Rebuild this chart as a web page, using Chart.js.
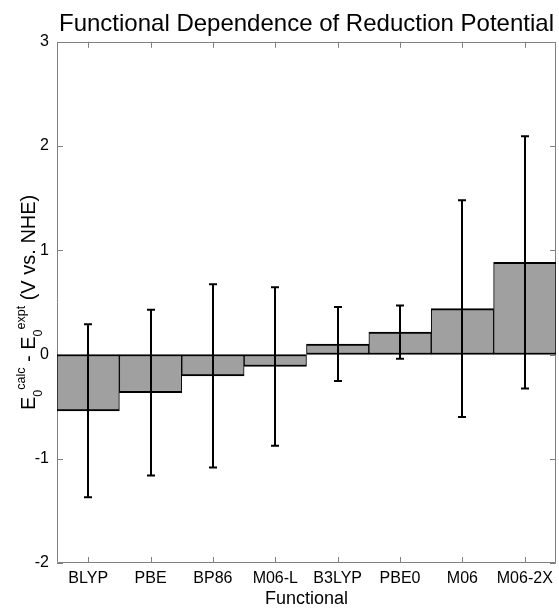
<!DOCTYPE html>
<html><head><meta charset="utf-8">
<script src="https://cdn.jsdelivr.net/npm/chart.js@4"></script>
<style>html,body{margin:0;padding:0;background:#fff}</style>
</head><body>
<canvas id="c" width="559" height="610" style="display:block;width:559px;height:610px"></canvas>
<script>
// ---- data ----
const categories = ['BLYP', 'PBE', 'BP86', 'M06-L', 'B3LYP', 'PBE0', 'M06', 'M06-2X'];
const meanValues = [-0.54, -0.365, -0.205, -0.115, 0.10, 0.215, 0.44, 0.885];
const errorValues = [0.83, 0.795, 0.88, 0.76, 0.355, 0.255, 1.04, 1.21];
const yTickValues = [-2, -1, 0, 1, 2, 3];
const titleText = 'Functional Dependence of Reduction Potential';
const xAxisTitle = 'Functional';
const yTitleParts = [
  {t: 'E', kind: 'main'}, {t: '0', kind: 'sub'}, {t: 'calc', kind: 'sup'},
  {t: ' - E', kind: 'main'}, {t: '0', kind: 'sub'}, {t: 'expt', kind: 'sup'},
  {t: ' (V vs. NHE)', kind: 'main'}
];

const FONT = 'Arial, "Liberation Sans", Helvetica, sans-serif';
const AXIS_COLOR = '#808080';

const boxPlugin = {
  id: 'boxPlugin',
  beforeDatasetsDraw(chart) {
    const {ctx, chartArea: a, scales: {x, y}} = chart;
    ctx.save();
    ctx.strokeStyle = AXIS_COLOR;
    ctx.lineWidth = 1;
    ctx.beginPath();
    ctx.rect(Math.round(a.left) + 0.5, Math.round(a.top) + 0.5, Math.round(a.right - a.left) - 1, Math.round(a.bottom - a.top) - 1);
    const tl = 6;
    y.ticks.forEach(t => {
      const py = Math.round(y.getPixelForValue(t.value)) + 0.5;
      ctx.moveTo(a.left, py); ctx.lineTo(a.left + tl, py);
      ctx.moveTo(a.right, py); ctx.lineTo(a.right - tl, py);
    });
    categories.forEach((c, i) => {
      const px = Math.round(x.getPixelForValue(i)) + 0.5;
      ctx.moveTo(px, a.bottom); ctx.lineTo(px, a.bottom - tl);
      ctx.moveTo(px, a.top); ctx.lineTo(px, a.top + tl);
    });
    ctx.stroke();
    ctx.restore();
  }
};

const errorPlugin = {
  id: 'errorPlugin',
  afterDatasetsDraw(chart) {
    const {ctx, scales: {y}} = chart;
    const meta = chart.getDatasetMeta(0);
    ctx.save();
    ctx.strokeStyle = '#000';
    ctx.lineWidth = 2;
    meta.data.forEach((bar, i) => {
      const px = Math.round(bar.x);
      const yt = y.getPixelForValue(meanValues[i] + errorValues[i]);
      const yb = y.getPixelForValue(meanValues[i] - errorValues[i]);
      ctx.beginPath();
      ctx.moveTo(px, yt); ctx.lineTo(px, yb);
      ctx.moveTo(px - 4, yt); ctx.lineTo(px + 4, yt);
      ctx.moveTo(px - 4, yb); ctx.lineTo(px + 4, yb);
      ctx.stroke();
    });
    ctx.restore();
  }
};

const yTitlePlugin = {
  id: 'yTitlePlugin',
  afterDraw(chart) {
    const {ctx, chartArea: a} = chart;
    const fonts = {main: '20px ' + FONT, sub: '12.5px ' + FONT, sup: '12.5px ' + FONT};
    const offs = {main: 0, sub: 7, sup: -10};
    ctx.save();
    const widths = yTitleParts.map(p => { ctx.font = fonts[p.kind]; return ctx.measureText(p.t).width; });
    const total = widths.reduce((s, w) => s + w, 0);
    const cy = (a.top + a.bottom) / 2;
    ctx.translate(35, cy);
    ctx.rotate(-Math.PI / 2);
    ctx.fillStyle = '#000';
    ctx.textBaseline = 'alphabetic';
    ctx.textAlign = 'left';
    let cx = -total / 2;
    yTitleParts.forEach((p, i) => {
      ctx.font = fonts[p.kind];
      ctx.fillText(p.t, cx, offs[p.kind]);
      cx += widths[i];
    });
    ctx.restore();
  }
};

new Chart(document.getElementById('c').getContext('2d'), {
  type: 'bar',
  data: {
    labels: categories,
    datasets: [{
      data: meanValues,
      backgroundColor: '#a0a0a0',
      borderColor: '#000',
      borderWidth: {top: 2, bottom: 2, left: 1, right: 1},
      borderSkipped: false,
      barPercentage: 1,
      categoryPercentage: 1
    }]
  },
  options: {
    responsive: false,
    animation: false,
    devicePixelRatio: 1,
    layout: {padding: {left: 0, right: 2, top: 0, bottom: 0}},
    plugins: {
      legend: {display: false},
      tooltip: {enabled: false},
      title: {
        display: true, text: titleText, fullSize: false, color: '#000',
        font: {family: FONT, size: 24, weight: 'normal'},
        padding: {top: 10, bottom: 3}
      }
    },
    scales: {
      x: {
        grid: {display: false, drawTicks: false},
        border: {display: false},
        ticks: {color: '#000', font: {family: FONT, size: 16}, padding: 6, maxRotation: 0, autoSkip: false},
        title: {display: true, text: xAxisTitle, color: '#000', font: {family: FONT, size: 18}, padding: 0},
        afterFit(s) { s.height = 47; }
      },
      y: {
        min: -2, max: 3,
        afterBuildTicks(s) { s.ticks = yTickValues.map(v => ({value: v})); },
        grid: {display: false, drawTicks: false},
        border: {display: false},
        ticks: {color: '#000', font: {family: FONT, size: 16}, padding: 8},
        afterFit(s) { s.width = 57; }
      }
    }
  },
  plugins: [boxPlugin, errorPlugin, yTitlePlugin]
});
</script>
</body></html>
